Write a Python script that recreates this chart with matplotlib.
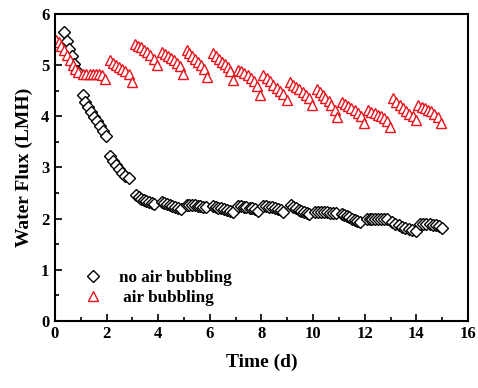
import matplotlib
matplotlib.use("Agg")
import matplotlib.pyplot as plt
from matplotlib.ticker import MultipleLocator

plt.rcParams['font.family'] = ['Liberation Serif', 'DejaVu Serif']
plt.rcParams['font.weight'] = 'bold'

no_air_time = [
    0.35, 0.45, 0.55, 0.65, 0.75, 0.85,
    1.07, 1.18, 1.29, 1.40, 1.51, 1.62, 1.73, 1.85, 1.98,
    2.13, 2.25, 2.37, 2.49, 2.61, 2.73, 2.86,
    3.14, 3.24, 3.34, 3.44, 3.54, 3.64, 3.74, 3.84,
    4.13, 4.24, 4.34, 4.45, 4.55, 4.66, 4.76, 4.87,
    5.10, 5.21, 5.31, 5.42, 5.53, 5.63, 5.74, 5.85,
    6.11, 6.22, 6.33, 6.44, 6.56, 6.67, 6.78, 6.89,
    7.09, 7.20, 7.31, 7.42, 7.54, 7.65, 7.76, 7.87,
    8.07, 8.18, 8.29, 8.40, 8.52, 8.63, 8.74, 8.85,
    9.13, 9.23, 9.34, 9.44, 9.55, 9.65, 9.76, 9.86,
    10.08, 10.20, 10.31, 10.43, 10.54, 10.66, 10.77, 10.89,
    11.11, 11.21, 11.31, 11.41, 11.52, 11.62, 11.72, 11.82,
    12.08, 12.19, 12.30, 12.41, 12.52, 12.63, 12.74, 12.85,
    13.05, 13.18, 13.32, 13.45, 13.58, 13.72, 13.85, 13.98,
    14.15, 14.27, 14.39, 14.52, 14.64, 14.76, 14.89, 15.01,
]
no_air_flux = [
    5.64, 5.48, 5.32, 5.17, 5.02, 4.88,
    4.41, 4.28, 4.18, 4.08, 3.98, 3.90, 3.81, 3.72, 3.61,
    3.22, 3.12, 3.04, 2.97, 2.90, 2.84, 2.79,
    2.46, 2.42, 2.39, 2.36, 2.34, 2.32, 2.30, 2.29,
    2.32, 2.30, 2.28, 2.26, 2.25, 2.23, 2.21, 2.19,
    2.27, 2.27, 2.26, 2.26, 2.25, 2.24, 2.23, 2.22,
    2.25, 2.23, 2.21, 2.20, 2.18, 2.16, 2.14, 2.12,
    2.25, 2.24, 2.23, 2.22, 2.21, 2.20, 2.18, 2.14,
    2.25, 2.24, 2.23, 2.22, 2.21, 2.19, 2.16, 2.13,
    2.26, 2.23, 2.20, 2.17, 2.14, 2.12, 2.10, 2.09,
    2.13, 2.13, 2.13, 2.12, 2.12, 2.11, 2.11, 2.10,
    2.09, 2.07, 2.05, 2.03, 2.00, 1.98, 1.95, 1.93,
    2.00, 2.00, 2.00, 2.00, 2.00, 2.00, 2.00, 1.99,
    1.93, 1.90, 1.87, 1.84, 1.82, 1.80, 1.78, 1.75,
    1.90, 1.90, 1.90, 1.89, 1.88, 1.87, 1.85, 1.82,
]

air_time = [
    0.04, 0.15, 0.25, 0.36, 0.47, 0.58, 0.68, 0.79, 0.90,
    1.10, 1.22, 1.34, 1.46, 1.58, 1.70, 1.82, 1.94,
    2.13, 2.25, 2.37, 2.49, 2.61, 2.73, 2.85, 2.97,
    3.10, 3.22, 3.34, 3.46, 3.58, 3.70, 3.82, 3.94,
    4.13, 4.25, 4.37, 4.49, 4.61, 4.73, 4.85, 4.97,
    5.10, 5.21, 5.32, 5.43, 5.55, 5.66, 5.77, 5.88,
    6.14, 6.25, 6.36, 6.47, 6.58, 6.69, 6.80, 6.91,
    7.10, 7.22, 7.34, 7.46, 7.59, 7.71, 7.83, 7.95,
    8.07, 8.20, 8.33, 8.46, 8.59, 8.72, 8.85, 8.98,
    9.10, 9.22, 9.34, 9.46, 9.59, 9.71, 9.83, 9.95,
    10.14, 10.25, 10.37, 10.48, 10.60, 10.71, 10.83, 10.94,
    11.11, 11.23, 11.36, 11.48, 11.61, 11.73, 11.86, 11.98,
    12.14, 12.26, 12.38, 12.50, 12.62, 12.74, 12.86, 12.98,
    13.11, 13.23, 13.36, 13.48, 13.61, 13.73, 13.86, 13.98,
    14.08, 14.20, 14.33, 14.45, 14.58, 14.70, 14.83, 14.95,
]
air_flux = [
    5.49, 5.45, 5.38, 5.30, 5.20, 5.10, 5.00, 4.92, 4.87,
    4.82, 4.83, 4.83, 4.82, 4.82, 4.82, 4.80, 4.72,
    5.10, 5.05, 5.00, 4.96, 4.92, 4.88, 4.83, 4.67,
    5.42, 5.38, 5.35, 5.30, 5.25, 5.20, 5.12, 5.00,
    5.26, 5.22, 5.18, 5.14, 5.10, 5.05, 4.98, 4.83,
    5.29, 5.24, 5.18, 5.12, 5.06, 5.00, 4.93, 4.77,
    5.23, 5.17, 5.12, 5.07, 5.02, 4.96, 4.88, 4.71,
    4.90, 4.88, 4.85, 4.80, 4.75, 4.68, 4.60, 4.41,
    4.80, 4.74, 4.68, 4.62, 4.56, 4.50, 4.43, 4.31,
    4.67, 4.62, 4.58, 4.53, 4.48, 4.42, 4.36, 4.22,
    4.54, 4.48, 4.42, 4.36, 4.30, 4.22, 4.12, 3.99,
    4.28, 4.24, 4.20, 4.16, 4.12, 4.07, 4.00, 3.86,
    4.12, 4.09, 4.06, 4.03, 4.00, 3.96, 3.90, 3.79,
    4.35, 4.28, 4.22, 4.16, 4.10, 4.05, 4.00, 3.92,
    4.22, 4.19, 4.16, 4.13, 4.10, 4.05, 3.98, 3.86,
]

fig = plt.figure(figsize=(4.78, 3.88), dpi=100)
ax = fig.add_axes([0.115, 0.173, 0.864, 0.791])

ax.plot(no_air_time, no_air_flux, linestyle='none', marker='D', markersize=6.3,
        markerfacecolor='white', markeredgecolor='black', markeredgewidth=1.0,
        label='no air bubbling')
ax.plot(air_time, air_flux, linestyle='none', marker='^', markersize=7.5,
        markerfacecolor='white', markeredgecolor='#e8141c', markeredgewidth=1.0,
        label=' air bubbling')

ax.set_xlim(0, 16)
ax.set_ylim(0, 6)
ax.xaxis.set_major_locator(MultipleLocator(2))
ax.xaxis.set_minor_locator(MultipleLocator(1))
ax.yaxis.set_major_locator(MultipleLocator(1))
ax.yaxis.set_minor_locator(MultipleLocator(0.5))
ax.tick_params(which='both', direction='in', top=False, right=False, width=1.2)
ax.tick_params(which='major', length=5, labelsize=12, pad=4)
ax.tick_params(which='minor', length=3)
for lab in ax.get_xticklabels() + ax.get_yticklabels():
    lab.set_fontweight('bold')
for sp in ax.spines.values():
    sp.set_linewidth(1.5)

ax.set_xlabel('Time (d)', fontsize=14, fontweight='bold', labelpad=8)
ax.set_ylabel('Water Flux (LMH)', fontsize=14, fontweight='bold', labelpad=6)

leg = ax.legend(loc='lower left', bbox_to_anchor=(0.03, 0.0), frameon=False,
                prop={'weight': 'bold', 'size': 12.3}, handlelength=1.2,
                handletextpad=0.9, labelspacing=0.2)

fig.savefig('out.png', dpi=100)
